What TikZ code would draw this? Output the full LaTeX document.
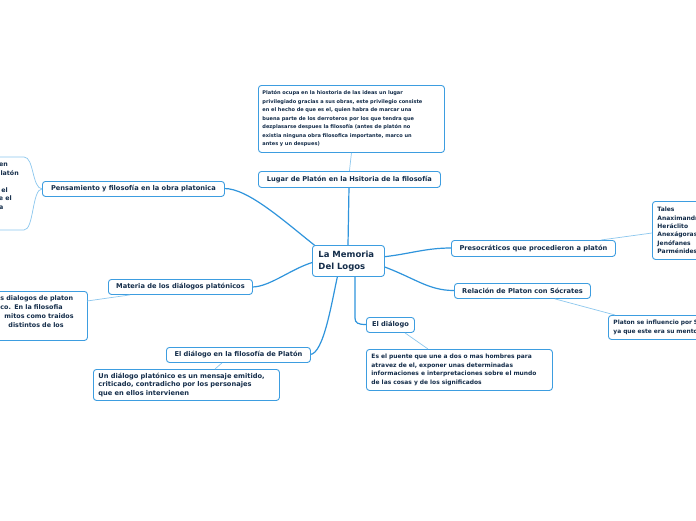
\documentclass[tikz,border=0pt]{standalone}
\usepackage{fontspec}
\setmainfont{DejaVu Sans}
\definecolor{boxc}{HTML}{3D9DE0}
\definecolor{linec}{HTML}{2F94DC}
\definecolor{sublc}{HTML}{8CC7EE}
\definecolor{txt}{HTML}{142D4A}
\tikzset{
  topic/.style={draw=boxc, line width=0.9pt, rounded corners=3pt, fill=white, text=txt,
    inner xsep=5pt, inner ysep=1pt, anchor=north west, align=left,
    font=\bfseries\fontsize{6.65}{8.7}\selectfont},
  mainline/.style={draw=linec, line width=1.2pt},
  subline/.style={draw=sublc, line width=0.7pt},
  frag/.style={text=txt, inner sep=0pt, font=\bfseries\fontsize{6.3}{8.5}\selectfont}
}
\begin{document}
\begin{tikzpicture}[x=1pt,y=-1pt]
\useasboundingbox (0,0) rectangle (696,520);
\clip (0,0) rectangle (696,520);
\fill[white] (0,0) rectangle (696,520);

% main connectors (nodes are drawn over them)
\coordinate (cN) at (348,245);
\draw[mainline] (cN) -- (349,187);
\draw[mainline] (224,188.5) .. controls (248,188) and (285,222) .. (318,248);
\draw[mainline] (252,287) .. controls (270,287) and (292,268) .. (314,262);
\draw[mainline] (310,354.5) .. controls (324,354) and (332,300) .. (338,274);
\draw[mainline] (355,274) -- (355,318) .. controls (355,323) and (358,324.5) .. (366,324.5);
\draw[mainline] (382,257) .. controls (410,254) and (425,248) .. (451,248);
\draw[mainline] (382,266) .. controls (415,278) and (428,290.5) .. (454,290.5);

% nodes
\node[topic, minimum width=72pt, minimum height=31pt, text width=60pt, inner xsep=6pt,
  font=\bfseries\fontsize{8.5}{11.5}\selectfont] (c) at (312,245) {La Memoria\\Del Logos};

\node[topic, minimum width=182pt, minimum height=16pt] (lugar) at (258,171)
  {Lugar de Platón en la Hsitoria de la filosofía};
\node[topic, text width=178pt, minimum height=67pt, inner xsep=4pt, inner ysep=2pt,
  font=\bfseries\fontsize{5.05}{8.5}\selectfont] (hist) at (258,85)
  {Platón ocupa en la hiostoria de las ideas un lugar\\privilegiado gracias a sus obras, este privilegio consiste\\en el hecho de que es el, quien habra de marcar una\\buena parte de los derroteros por los que tendra que\\dezplasarse despues la filosofía (antes de platón no\\existia ninguna obra filosofica importante, marco un\\antes y un despues)};

\node[topic, minimum width=182pt, minimum height=15pt] (pens) at (42,181)
  {Pensamiento y filosofía en la obra platonica};

\node[topic, minimum width=144pt, minimum height=15pt] (mat) at (108,279)
  {Materia de los diálogos platónicos};
\node[topic, text width=190pt, minimum height=49pt, inner xsep=0pt,
  font=\bfseries\fontsize{6.4}{8.7}\selectfont] (matb) at (-103,291)
  {\hspace*{103pt}s dialogos de platon\\\hspace*{103pt}co. En la filosofia\\\hspace*{107pt}mitos como traidos\\\hspace*{111pt}distintos de los\\\mbox{}};

\node[topic, minimum width=144pt, minimum height=15pt] (dfil) at (166,347)
  {El diálogo en la filosofía de Platón};
\node[topic, text width=176pt, minimum height=31pt] (undial) at (93,369)
  {Un diálogo platónico es un mensaje emitido,\\criticado, contradicho por los personajes\\que en ellos intervienen};

\node[topic, minimum width=48pt, minimum height=15pt] (eldial) at (366,317) {El diálogo};
\node[topic, text width=176pt, minimum height=41pt,
  font=\bfseries\fontsize{5.95}{8.7}\selectfont] (puente) at (366,349)
  {Es el puente que une a dos o mas hombres para\\atravez de el, exponer unas determinadas\\informaciones e interpretaciones sobre el mundo\\de las cosas y de los significados};

\node[topic, minimum width=164pt, minimum height=16pt] (preso) at (451,240)
  {Presocráticos que procedieron a platón};
\node[topic, text width=80pt, minimum height=58pt,
  font=\bfseries\fontsize{6.0}{8.4}\selectfont] (tales) at (652,201)
  {Tales\\Anaximandro\\Heráclito\\Anexágoras\\Jenófanes\\Parménides};

\node[topic, minimum width=136pt, minimum height=15pt] (rel) at (454,283)
  {Relación de Platon con Sócrates};
\node[topic, text width=140pt, minimum height=24pt,
  font=\bfseries\fontsize{5.9}{8.7}\selectfont] (plat) at (608,315)
  {Platon se influencio por Sócrates\\ya que este era su mentor};

% sub connectors
\draw[subline] (hist.south) -- (lugar.north);
\draw[subline] (pens.west) .. controls (32,188) and (34,157) .. (24,157) -- (-5,157);
\draw[subline] (pens.west) .. controls (32,189) and (34,230) .. (24,230) -- (-5,230);
\draw[subline] ([xshift=22pt]mat.south west) -- (87,301);
\draw[subline] ([xshift=56pt]dfil.south west) -- ([xshift=122pt]undial.north west);
\draw[subline] ([xshift=39pt]eldial.south west) -- ([xshift=62pt]puente.north west);
\draw[subline] ([xshift=-15pt]preso.north east) -- ([yshift=-32pt]tales.north west);
\draw[subline] ([xshift=101pt]rel.south west) -- ([xshift=7pt]plat.north west);

% fragments of a topic cut by the left edge
\node[frag, anchor=base east] (f1) at (8,166) {en};
\node[frag, anchor=base east] (f2) at (19,175) {latón};
\node[frag, anchor=base east] (f3) at (8,192) {el};
\node[frag, anchor=base east] (f4) at (12,200.5) {e el};
\node[frag, anchor=base east] (f5) at (3.5,209) {a};
\end{tikzpicture}
\end{document}
